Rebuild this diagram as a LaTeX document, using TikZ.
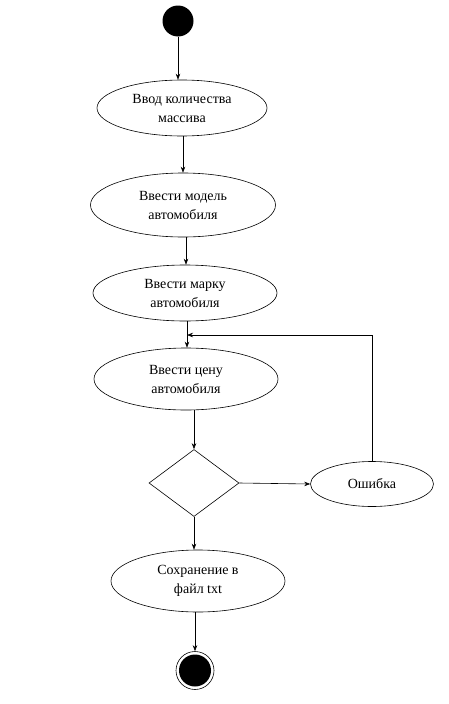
\documentclass[tikz,border=0pt]{standalone}
\usepackage{fontspec}
\setmainfont{Liberation Serif}
\usetikzlibrary{shapes.geometric,arrows.meta}
\begin{document}
\begin{tikzpicture}[x=1pt,y=-1pt,
  act/.style={ellipse,draw,line width=0.6pt,inner sep=0pt,align=center,font=\fontsize{14}{19}\selectfont},
  arr/.style={line width=0.6pt,-{Stealth[length=6pt,width=4.5pt]}},
  ln/.style={line width=0.6pt}]
\useasboundingbox (0,0) rectangle (448,704);
\node[circle,fill=black,minimum size=31pt,inner sep=0pt] (start) at (178,21) {};
\node[act,minimum width=170pt,minimum height=56pt] (e1) at (182,108) {Ввод количества\\массива};
\node[act,minimum width=185pt,minimum height=64pt] (e2) at (183,205) {Ввести модель\\автомобиля};
\node[act,minimum width=184pt,minimum height=56pt] (e3) at (185,293) {Ввести марку\\автомобиля};
\node[act,minimum width=184pt,minimum height=62pt] (e4) at (186,379) {Ввести цену\\автомобиля};
\node[diamond,draw,line width=0.6pt,minimum width=90pt,minimum height=67pt,inner sep=0pt] (d) at (194,483) {};
\node[act,minimum width=123pt,minimum height=45pt] (err) at (372,484) {Ошибка};
\node[act,minimum width=174pt,minimum height=62pt] (e5) at (198,581) {Сохранение в\\файл txt};
\node[circle,draw,line width=0.6pt,minimum size=38pt,inner sep=0pt] (endo) at (195,670.5) {};
\node[circle,fill=black,minimum size=32pt,inner sep=0pt] (endi) at (195,670.5) {};
\coordinate (fb) at (187,335);
\draw[arr] (start.south) -- (start.south |- e1.north);
\draw[arr] (183,136) -- (e2.north -| 183,0);
\draw[arr] (186,237) -- (e3.north -| 186,0);
\draw[arr] (187,321) -- (e4.north -| 187,0);
\draw[arr] (194,410) -- (d.north);
\draw[arr] (d.east) -- (err.west);
\draw[arr] (err.north) |- (fb);
\draw[arr] (d.south) -- (e5.north -| d.south);
\draw[arr] (195,612) -- (endo.north);
\end{tikzpicture}
\end{document}
